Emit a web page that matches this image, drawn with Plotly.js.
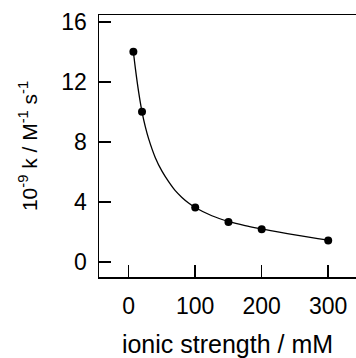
<!DOCTYPE html>
<html>
<head>
<meta charset="utf-8">
<script src="https://cdn.plot.ly/plotly-3.0.1.min.js"></script>
<style>html,body{margin:0;padding:0;background:#fff;}#chart{width:356px;height:358px;}</style>
</head>
<body>
<div id="chart"></div>
<script>
// measured points
var ionicStrength = [7, 20, 100, 150, 200, 300];
var rateConst = [14.0, 10.0, 3.63, 2.67, 2.18, 1.43];
// fitted curve
var fitX = [7, 10, 15, 20, 25, 30, 40, 50, 60, 70, 80, 90, 100, 125, 150, 175, 200, 250, 300];
var fitY = [14.0, 12.9, 11.3, 10.0, 9.0, 8.2, 6.95, 6.05, 5.35, 4.75, 4.3, 3.93, 3.63, 3.08, 2.7, 2.42, 2.2, 1.8, 1.45];
var xTicks = [0, 100, 200, 300];
var yTicks = [0, 4, 8, 12, 16];

var font = "Liberation Sans, Arial, sans-serif";
var data = [
  {x: fitX, y: fitY, mode: 'lines', line: {color: '#000', width: 1.3, shape: 'spline'}, hoverinfo: 'skip'},
  {x: ionicStrength, y: rateConst, mode: 'markers', marker: {color: '#000', size: 8}}
];
var layout = {
  width: 356, height: 358,
  margin: {l: 99, r: 0, t: 15, b: 81},
  showlegend: false,
  paper_bgcolor: '#fff', plot_bgcolor: '#fff',
  font: {family: font, color: '#000'},
  xaxis: {
    range: [-44.7, 341.8], tickvals: xTicks, ticktext: xTicks.map(String),
    showgrid: false, zeroline: false, showline: true, mirror: true, linecolor: '#000', linewidth: 1.5,
    ticks: 'inside', ticklen: 12, tickwidth: 1.5, tickcolor: '#000',
    tickfont: {size: 23, family: font}, ticklabelstandoff: 8,
    title: {text: 'ionic strength / mM', font: {size: 25, family: font}, standoff: 24}
  },
  yaxis: {
    range: [-1.0, 16.45], tickvals: yTicks, ticktext: yTicks.map(String),
    showgrid: false, zeroline: false, showline: true, mirror: false, linecolor: '#000', linewidth: 1.5,
    ticks: 'inside', ticklen: 12, tickwidth: 1.5, tickcolor: '#000',
    tickfont: {size: 23, family: font}, ticklabelstandoff: 6,
    title: {text: '10<sup>-9</sup> k / M<sup>-1</sup> s<sup>-1</sup>', font: {size: 21, family: font}, standoff: 18}
  }
};
Plotly.newPlot('chart', data, layout, {displayModeBar: false, staticPlot: true});
</script>
</body>
</html>
